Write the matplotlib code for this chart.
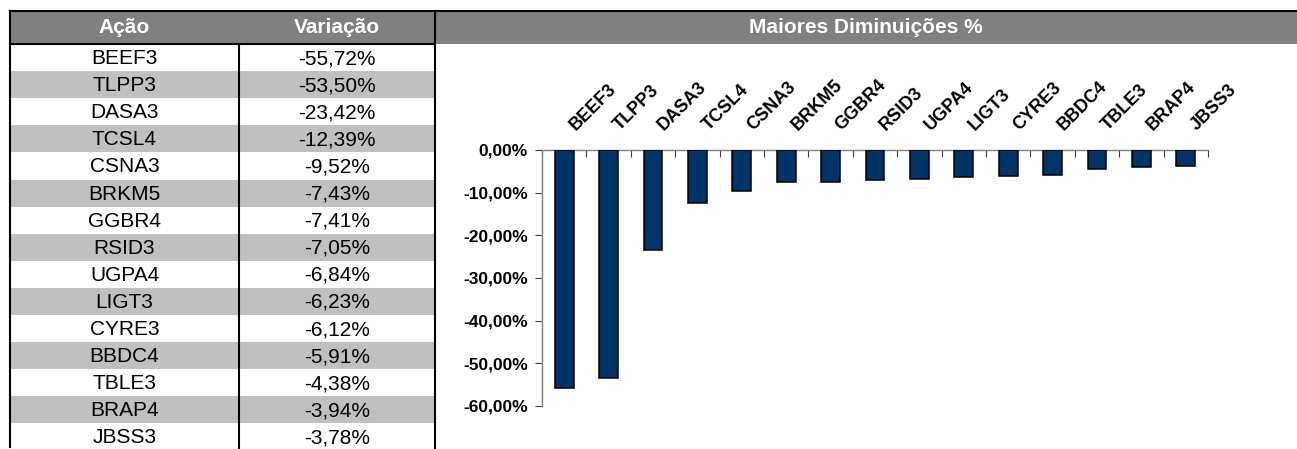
import numpy as np
import matplotlib
matplotlib.use('Agg')
import matplotlib.pyplot as plt
from matplotlib.patches import Rectangle
from matplotlib.ticker import FuncFormatter

# dados
acoes = ['BEEF3', 'TLPP3', 'DASA3', 'TCSL4', 'CSNA3', 'BRKM5', 'GGBR4', 'RSID3',
         'UGPA4', 'LIGT3', 'CYRE3', 'BBDC4', 'TBLE3', 'BRAP4', 'JBSS3']
variacao = [-55.72, -53.50, -23.42, -12.39, -9.52, -7.43, -7.41, -7.05,
            -6.84, -6.23, -6.12, -5.91, -4.38, -3.94, -3.78]
cabecalho = ['Ação', 'Variação']
titulo = 'Maiores Diminuições %'

plt.rcParams['font.family'] = ['Liberation Sans', 'DejaVu Sans']


def pct(v, casas=2):
    return ('{:.%df}%%' % casas).format(v).replace('.', ',')


W, H = 1297, 449
fig = plt.figure(figsize=(W / 100, H / 100), dpi=100)

# tabela (coordenadas em pixels)
tab = fig.add_axes([0, 0, 1, 1])
tab.set_xlim(0, W)
tab.set_ylim(H, 0)
tab.axis('off')

x0, xm, x1 = 10, 239, 435
topo, fim_cab, alt = 11, 44, 27.1

tab.add_patch(Rectangle((x0, topo), W - x0, fim_cab - topo, color='#808080', lw=0))
tab.text((x0 + xm) / 2, (topo + fim_cab) / 2, cabecalho[0], ha='center', va='center',
         fontsize=15, fontweight='bold', color='white')
tab.text((xm + x1) / 2, (topo + fim_cab) / 2, cabecalho[1], ha='center', va='center',
         fontsize=15, fontweight='bold', color='white')
tab.text((x1 + W) / 2, (topo + fim_cab) / 2, titulo, ha='center', va='center',
         fontsize=15, fontweight='bold', color='white')

for i, (a, v) in enumerate(zip(acoes, variacao)):
    y = fim_cab + i * alt
    if i % 2 == 1:
        tab.add_patch(Rectangle((x0, y), x1 - x0, alt, color='#C0C0C0', lw=0))
    tab.text((x0 + xm) / 2, y + alt / 2 + 1, a, ha='center', va='center', fontsize=15)
    tab.text((xm + x1) / 2, y + alt / 2 + 1, pct(v), ha='center', va='center', fontsize=15)

lw = 1.5
tab.plot([x0, W], [topo, topo], color='black', lw=lw)
tab.plot([x0, x1], [fim_cab, fim_cab], color='black', lw=lw)
tab.plot([x0, x0], [topo, H - 2], color='black', lw=lw)
tab.plot([x1, x1], [topo, H], color='black', lw=lw)
tab.plot([xm, xm], [fim_cab, H], color='black', lw=lw)

# grafico
ax = fig.add_axes([542 / W, (H - 406) / H, (1208 - 542) / W, (406 - 150) / H])
ax.patch.set_alpha(0)
x = np.arange(len(acoes))
ax.bar(x, variacao, width=0.42, color='#003366', edgecolor='black', linewidth=1.1, zorder=3)

ax.set_xlim(-0.5, len(acoes) - 0.5)
ax.set_ylim(-60, 0)
ax.set_yticks(np.arange(-60, 1, 10))
ax.yaxis.set_major_formatter(FuncFormatter(lambda v, p: pct(v)))
for t in ax.get_yticklabels():
    t.set_fontweight('bold')
ax.tick_params(axis='y', direction='out', length=5, labelsize=12.5, color='#404040', pad=5)

ax.xaxis.set_ticks_position('top')
ax.set_xticks(np.arange(-0.5, len(acoes), 1))
ax.set_xticklabels([])
ax.tick_params(axis='x', direction='in', length=5, color='#404040')

for s in ['bottom', 'right']:
    ax.spines[s].set_visible(False)
for s in ['left', 'top']:
    ax.spines[s].set_color('#808080')
    ax.spines[s].set_linewidth(1.0)

for i, a in enumerate(acoes):
    ax.annotate(a, xy=(i, 1), xycoords=('data', 'axes fraction'),
                xytext=(8, 14), textcoords='offset points',
                rotation=45, rotation_mode='anchor', ha='left', va='baseline',
                fontsize=13, fontweight='bold')

fig.savefig('out.png', dpi=100)
